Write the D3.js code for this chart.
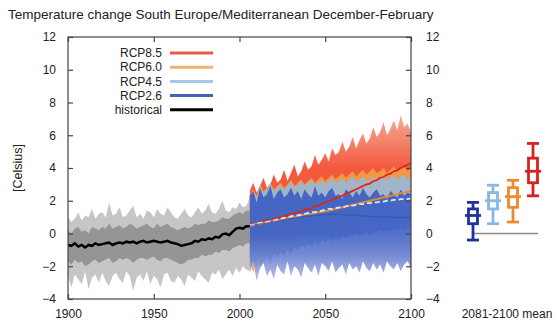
<!DOCTYPE html>
<html>
<head>
<meta charset="utf-8">
<script src="https://cdn.jsdelivr.net/npm/d3@7"></script>
<style>
  body { margin: 0; background: #fff; }
  svg { font-family: "Liberation Sans", Arial, sans-serif; }
  .tick text { font-size: 12px; fill: #222; }
  .axis path, .axis line { stroke: #444; stroke-width: 1.2; }
</style>
</head>
<body>
<div id="chart"></div>
<script>
// historical ensemble, every 2 years from 1900 to 2006
const histMean = [-0.7, -0.75, -0.6, -0.8, -0.7, -0.85, -0.7, -0.75, -0.6, -0.7, -0.65, -0.6, -0.55, -0.7, -0.6, -0.55, -0.6, -0.5, -0.55, -0.5, -0.6, -0.5, -0.45, -0.55, -0.5, -0.45, -0.5, -0.55, -0.5, -0.45, -0.55, -0.6, -0.65, -0.75, -0.7, -0.65, -0.6, -0.45, -0.5, -0.35, -0.4, -0.3, -0.35, -0.2, -0.25, -0.05, 0.0, -0.1, 0.1, 0.3, 0.35, 0.3, 0.45, 0.45];
const histHi = [1.0, 0.7, 0.9, 1.3, 0.8, 1.1, 1.0, 1.5, 0.9, 1.2, 1.3, 1.0, 1.9, 1.1, 1.2, 1.6, 1.0, 1.1, 1.4, 1.7, 1.0, 1.2, 0.9, 1.4, 1.3, 1.0, 1.5, 1.2, 1.1, 1.6, 1.3, 1.0, 0.9, 1.2, 1.5, 1.1, 1.0, 1.3, 1.6, 1.2, 1.4, 1.8, 1.3, 1.2, 1.5, 2.0, 1.4, 1.3, 1.6, 1.5, 1.9, 1.6, 1.7, 2.2];
const histLo = [-2.6, -3.3, -2.5, -2.8, -3.1, -2.3, -3.4, -2.7, -2.5, -3.0, -2.4, -2.9, -3.2, -2.6, -2.4, -2.8, -3.0, -2.3, -2.6, -3.5, -2.7, -2.5, -2.9, -2.3, -3.1, -2.6, -2.8, -3.3, -2.5, -2.4, -2.9, -3.0, -2.6, -2.8, -3.2, -2.5, -2.7, -2.9, -2.3, -2.6, -2.8, -3.0, -2.4, -2.5, -2.2, -2.8, -2.5, -2.2, -2.6, -2.1, -2.4, -2.0, -2.2, -2.3];
const histCoreHi = [0.2, 0.0, 0.3, 0.4, 0.1, 0.2, 0.0, 0.4, 0.3, 0.2, 0.4, 0.3, 0.6, 0.3, 0.4, 0.5, 0.3, 0.4, 0.6, 0.5, 0.3, 0.4, 0.5, 0.6, 0.4, 0.3, 0.6, 0.4, 0.5, 0.6, 0.4, 0.3, 0.2, 0.3, 0.4, 0.3, 0.4, 0.6, 0.5, 0.6, 0.6, 0.8, 0.7, 0.7, 0.8, 1.0, 0.9, 0.9, 1.1, 1.2, 1.3, 1.2, 1.4, 1.4];
const histCoreLo = [-1.7, -1.9, -1.6, -1.8, -1.7, -2.0, -1.9, -1.7, -1.6, -1.8, -1.7, -1.6, -1.5, -1.8, -1.7, -1.5, -1.6, -1.5, -1.6, -1.8, -1.6, -1.5, -1.5, -1.6, -1.5, -1.4, -1.6, -1.7, -1.5, -1.5, -1.6, -1.7, -1.8, -1.9, -1.8, -1.6, -1.6, -1.5, -1.5, -1.3, -1.4, -1.3, -1.3, -1.1, -1.2, -1.0, -1.0, -1.1, -0.9, -0.8, -0.7, -0.8, -0.6, -0.6];

// projections, every 2 years from 2006 to 2100
const rcp85Mean = [0.5, 0.6, 0.55, 0.7, 0.75, 0.8, 0.75, 0.9, 0.95, 1.0, 1.05, 1.1, 1.2, 1.25, 1.3, 1.35, 1.45, 1.5, 1.55, 1.65, 1.7, 1.8, 1.9, 2.0, 2.05, 2.15, 2.25, 2.3, 2.45, 2.5, 2.6, 2.7, 2.8, 2.9, 3.0, 3.05, 3.2, 3.25, 3.4, 3.45, 3.6, 3.65, 3.8, 3.85, 4.0, 4.1, 4.2, 4.3];
const rcp85Hi = [2.6, 3.1, 2.5, 2.9, 3.4, 2.8, 3.0, 3.6, 3.1, 3.3, 3.9, 3.2, 3.7, 4.2, 3.5, 3.8, 4.4, 3.9, 4.1, 4.8, 4.2, 4.5, 4.9, 4.4, 5.2, 4.8, 5.0, 5.6, 5.0, 5.3, 5.9, 5.2, 5.7, 6.1, 5.5, 5.8, 6.5, 5.9, 6.2, 6.8, 6.0, 6.4, 6.9, 6.3, 7.2, 6.5, 6.7, 6.2];
const rcp85Lo = [-1.5, -1.0, -1.8, -0.9, -1.3, -0.8, -1.1, -0.6, -0.9, -0.5, -0.7, -0.3, -0.5, -0.1, -0.3, 0.0, -0.2, 0.2, 0.0, 0.4, 0.2, 0.5, 0.4, 0.7, 0.5, 0.9, 0.7, 1.0, 0.9, 1.2, 1.0, 1.3, 1.4, 1.2, 1.6, 1.4, 1.7, 1.6, 1.9, 1.7, 2.0, 1.9, 2.2, 2.0, 2.3, 2.2, 2.5, 2.4];

const rcp60Mean = [0.5, 0.55, 0.6, 0.6, 0.65, 0.7, 0.75, 0.75, 0.8, 0.85, 0.9, 0.95, 1.0, 1.0, 1.05, 1.1, 1.15, 1.2, 1.2, 1.25, 1.3, 1.3, 1.35, 1.4, 1.45, 1.5, 1.55, 1.6, 1.65, 1.7, 1.75, 1.8, 1.85, 1.9, 1.95, 2.0, 2.05, 2.1, 2.15, 2.2, 2.25, 2.3, 2.35, 2.4, 2.45, 2.5, 2.55, 2.6];
const rcp60Hi = [2.4, 2.7, 2.3, 3.0, 2.6, 2.8, 3.1, 2.7, 2.9, 3.1, 2.8, 3.0, 3.3, 2.9, 3.1, 3.3, 3.0, 3.2, 3.4, 3.1, 3.3, 3.5, 3.2, 3.4, 3.6, 3.3, 3.5, 3.7, 3.4, 3.6, 3.8, 3.5, 3.7, 3.9, 3.6, 3.8, 4.0, 3.7, 3.8, 4.0, 3.7, 3.9, 4.1, 3.8, 4.0, 4.1, 3.8, 4.0];
const rcp60Lo = [-1.8, -2.4, -1.5, -2.1, -1.6, -1.3, -1.9, -1.2, -1.5, -1.1, -1.4, -0.9, -1.2, -0.8, -1.0, -0.7, -0.9, -0.5, -0.8, -0.4, -0.6, -0.3, -0.5, -0.2, -0.4, -0.1, -0.3, 0.0, -0.2, 0.1, 0.0, 0.2, 0.1, 0.3, 0.2, 0.4, 0.3, 0.5, 0.4, 0.6, 0.5, 0.7, 0.6, 0.8, 0.7, 0.9, 0.8, 1.0];

const rcp45Mean = [0.5, 0.5, 0.6, 0.65, 0.7, 0.7, 0.75, 0.8, 0.85, 0.9, 0.95, 1.0, 1.05, 1.1, 1.1, 1.15, 1.2, 1.25, 1.3, 1.3, 1.35, 1.4, 1.45, 1.5, 1.5, 1.55, 1.6, 1.6, 1.65, 1.7, 1.7, 1.75, 1.8, 1.8, 1.85, 1.85, 1.9, 1.9, 1.95, 1.95, 2.0, 2.0, 2.05, 2.05, 2.1, 2.1, 2.1, 2.15];
const rcp45Hi = [2.3, 2.6, 2.2, 2.9, 2.5, 2.7, 3.1, 2.6, 2.8, 3.0, 2.7, 2.9, 3.2, 2.8, 3.0, 3.2, 2.9, 3.1, 3.3, 3.0, 3.1, 3.3, 3.0, 3.2, 3.4, 3.1, 3.2, 3.4, 3.1, 3.3, 3.5, 3.2, 3.3, 3.5, 3.2, 3.3, 3.5, 3.2, 3.4, 3.6, 3.3, 3.4, 3.6, 3.3, 3.5, 3.6, 3.3, 3.5];
const rcp45Lo = [-2.0, -1.6, -2.2, -1.5, -1.8, -1.4, -1.7, -1.2, -1.5, -1.1, -1.3, -1.0, -1.2, -0.8, -1.0, -0.7, -0.9, -0.6, -0.8, -0.5, -0.7, -0.4, -0.6, -0.3, -0.5, -0.3, -0.4, -0.2, -0.3, -0.1, -0.2, 0.0, -0.1, 0.0, 0.1, -0.1, 0.1, 0.0, 0.2, 0.1, 0.2, 0.1, 0.3, 0.2, 0.3, 0.2, 0.4, 0.3];

const rcp26Mean = [0.45, 0.5, 0.55, 0.6, 0.6, 0.65, 0.7, 0.75, 0.75, 0.8, 0.85, 0.9, 0.9, 0.95, 1.0, 1.0, 1.05, 1.05, 1.1, 1.1, 1.1, 1.15, 1.15, 1.15, 1.2, 1.15, 1.2, 1.15, 1.15, 1.1, 1.15, 1.1, 1.1, 1.05, 1.1, 1.05, 1.05, 1.0, 1.05, 1.0, 1.0, 1.05, 1.0, 0.95, 1.0, 1.0, 0.95, 1.0];
const rcp26Hi = [2.3, 2.6, 1.9, 2.8, 2.2, 2.4, 2.9, 2.1, 2.5, 2.7, 2.2, 2.4, 2.8, 2.3, 2.6, 2.1, 2.7, 2.4, 2.2, 2.9, 2.3, 2.5, 2.2, 2.6, 2.8, 2.3, 2.4, 2.1, 2.7, 2.5, 2.2, 2.6, 2.3, 2.8, 2.4, 2.2, 2.5, 2.7, 2.3, 2.4, 2.1, 2.6, 2.4, 2.2, 2.7, 2.3, 2.5, 2.4];
const rcp26Lo = [-2.4, -1.7, -2.9, -2.1, -1.8, -2.6, -2.2, -2.8, -1.9, -2.3, -2.5, -1.7, -2.6, -2.0, -2.2, -2.7, -1.8, -2.1, -2.4, -1.9, -2.6, -1.8, -2.0, -2.3, -1.7, -2.4, -2.1, -1.9, -2.5, -1.8, -2.2, -2.0, -2.4, -1.7, -2.1, -2.3, -1.8, -2.2, -1.9, -2.4, -1.7, -2.0, -2.2, -1.8, -2.3, -1.9, -1.7, -2.1];

// 2081-2100 mean spread per scenario
const boxNames = ["RCP2.6", "RCP4.5", "RCP6.0", "RCP8.5"];
const boxLow = [-0.4, 0.6, 0.7, 2.3];
const boxQ1 = [0.6, 1.5, 1.6, 3.1];
const boxMed = [1.1, 2.0, 2.25, 3.8];
const boxQ3 = [1.5, 2.5, 2.8, 4.6];
const boxHigh = [1.9, 2.95, 3.25, 5.5];

const legendNames = ["RCP8.5", "RCP6.0", "RCP4.5", "RCP2.6", "historical"];
const yTicks = [-4, -2, 0, 2, 4, 6, 8, 10, 12];
const xTicks = [1900, 1950, 2000, 2050, 2100];

const width = 560, height = 327;
const mLeft = 68, mRight = 411, mTop = 37, mBottom = 299;

const histYears = d3.range(1900, 2007, 2);
const projYears = d3.range(2006, 2101, 2);

const x = d3.scaleLinear().domain([1900, 2100]).range([mLeft, mRight]);
const y = d3.scaleLinear().domain([-4, 12]).range([mBottom, mTop]);
const bx = d3.scalePoint().domain(boxNames).range([473, 533]);

const colors = {
  "RCP8.5": { band: "#f24b2c", mean: "#d82a1c", legend: "#e85a4c", box: "#d82222" },
  "RCP6.0": { band: "#f3a246", mean: "#ee8a22", legend: "#f2b274", box: "#f08a30" },
  "RCP4.5": { band: "#92b9e2", mean: "#d6e8f8", legend: "#a4c8e8", box: "#86b8e2" },
  "RCP2.6": { band: "#3558c2", mean: "#2a48b0", legend: "#4a60b0", box: "#22329c" },
  "historical": { legend: "#000" }
};

const projections = [
  { name: "RCP8.5", mean: rcp85Mean, hi: rcp85Hi, lo: rcp85Lo },
  { name: "RCP6.0", mean: rcp60Mean, hi: rcp60Hi, lo: rcp60Lo },
  { name: "RCP4.5", mean: rcp45Mean, hi: rcp45Hi, lo: rcp45Lo },
  { name: "RCP2.6", mean: rcp26Mean, hi: rcp26Hi, lo: rcp26Lo }
];

const svg = d3.select("#chart")
  .append("svg")
  .attr("width", width)
  .attr("height", height);

const defs = svg.append("defs");
defs.append("clipPath").attr("id", "plot")
  .append("rect").attr("x", mLeft).attr("y", mTop).attr("width", mRight - mLeft).attr("height", mBottom - mTop);

// lighter spikes at the bottom of RCP2.6 and at the top of RCP8.5
const gBlue = defs.append("linearGradient").attr("id", "gBlue")
  .attr("gradientUnits", "userSpaceOnUse").attr("x1", 0).attr("x2", 0)
  .attr("y1", y(-2.8)).attr("y2", y(0));
gBlue.append("stop").attr("offset", 0).attr("stop-color", "#aab3e6");
gBlue.append("stop").attr("offset", 0.55).attr("stop-color", "#5a74cc");
gBlue.append("stop").attr("offset", 1).attr("stop-color", "#3558c2");

const gRed = defs.append("linearGradient").attr("id", "gRed")
  .attr("gradientUnits", "userSpaceOnUse").attr("x1", 0).attr("x2", 0)
  .attr("y1", y(7.4)).attr("y2", y(4.0));
gRed.append("stop").attr("offset", 0).attr("stop-color", "#f6a896");
gRed.append("stop").attr("offset", 1).attr("stop-color", "#f24b2c");

const band = (years, lo, hi) => d3.area()
  .x((d, i) => x(years[i]))
  .y0((d, i) => y(lo[i]))
  .y1((d, i) => y(hi[i]))(years);

const line = (years, vals) => d3.line()
  .x((d, i) => x(years[i]))
  .y((d, i) => y(vals[i]))(years);

const plot = svg.append("g").attr("clip-path", "url(#plot)");

plot.append("path").attr("d", band(histYears, histLo, histHi)).attr("fill", "#c6c6c6");
plot.append("path").attr("d", band(histYears, histCoreLo, histCoreHi)).attr("fill", "#959595");

projections.forEach(p => {
  let fill = colors[p.name].band;
  if (p.name == "RCP8.5") fill = "url(#gRed)";
  if (p.name == "RCP2.6") fill = "url(#gBlue)";
  plot.append("path")
    .attr("d", band(projYears, p.lo, p.hi))
    .attr("fill", fill)
    .attr("fill-opacity", p.name == "RCP8.5" ? 0.92 : 0.85);
});

projections.forEach(p => {
  plot.append("path")
    .attr("d", line(projYears, p.mean))
    .attr("fill", "none")
    .attr("stroke", colors[p.name].mean)
    .attr("stroke-opacity", p.name == "RCP2.6" ? 0.5 : 1)
    .attr("stroke-width", p.name == "RCP2.6" ? 1.2 : 1.8)
    .attr("stroke-dasharray", p.name == "RCP4.5" ? "5,3" : null);
});

plot.append("path")
  .attr("d", line(histYears, histMean))
  .attr("fill", "none")
  .attr("stroke", "#000")
  .attr("stroke-width", 2.5);

// frame and axes
svg.append("rect")
  .attr("x", mLeft).attr("y", mTop)
  .attr("width", mRight - mLeft).attr("height", mBottom - mTop)
  .attr("fill", "none").attr("stroke", "#444").attr("stroke-width", 1.2);

svg.append("g").attr("class", "axis")
  .attr("transform", "translate(" + mLeft + ",0)")
  .call(d3.axisLeft(y).tickValues(yTicks).tickSize(-5).tickPadding(12));
svg.append("g").attr("class", "axis")
  .attr("transform", "translate(" + mRight + ",0)")
  .call(d3.axisRight(y).tickValues(yTicks).tickSize(-5).tickPadding(15));
svg.append("g").attr("class", "axis")
  .attr("transform", "translate(0," + mBottom + ")")
  .call(d3.axisBottom(x).tickValues(xTicks).tickSize(-5).tickPadding(10).tickFormat(d3.format("d")));
svg.append("g").attr("class", "axis")
  .attr("transform", "translate(0," + mTop + ")")
  .call(d3.axisTop(x).tickValues(xTicks).tickSize(-5).tickFormat(""));
svg.selectAll(".axis .domain").remove();

// box plots
svg.append("line")
  .attr("x1", 473).attr("x2", 538)
  .attr("y1", y(0)).attr("y2", y(0))
  .attr("stroke", "#8a8a8a").attr("stroke-width", 1.5);

const boxes = svg.append("g").selectAll("g")
  .data(boxNames)
  .enter()
  .append("g")
  .attr("stroke", d => colors[d].box)
  .attr("stroke-width", 2.8)
  .attr("fill", "#fff");

boxes.append("line")
  .attr("x1", d => bx(d)).attr("x2", d => bx(d))
  .attr("y1", (d, i) => y(boxLow[i])).attr("y2", (d, i) => y(boxHigh[i]));
boxes.append("line")
  .attr("x1", d => bx(d) - 6).attr("x2", d => bx(d) + 6)
  .attr("y1", (d, i) => y(boxLow[i])).attr("y2", (d, i) => y(boxLow[i]));
boxes.append("line")
  .attr("x1", d => bx(d) - 6).attr("x2", d => bx(d) + 6)
  .attr("y1", (d, i) => y(boxHigh[i])).attr("y2", (d, i) => y(boxHigh[i]));
boxes.append("rect")
  .attr("x", d => bx(d) - 4.5).attr("width", 9)
  .attr("y", (d, i) => y(boxQ3[i]))
  .attr("height", (d, i) => y(boxQ1[i]) - y(boxQ3[i]));
boxes.append("line")
  .attr("x1", d => bx(d) - 8).attr("x2", d => bx(d) + 8)
  .attr("y1", (d, i) => y(boxMed[i])).attr("y2", (d, i) => y(boxMed[i]));

// legend
const legend = svg.append("g").selectAll("g")
  .data(legendNames)
  .enter()
  .append("g")
  .attr("transform", (d, i) => "translate(0," + (53 + i * 14.2) + ")");
legend.append("text")
  .attr("x", 162).attr("dy", "0.35em")
  .attr("text-anchor", "end")
  .attr("font-size", 12).attr("fill", "#222")
  .text(d => d);
legend.append("line")
  .attr("x1", 170).attr("x2", 213)
  .attr("stroke", d => colors[d].legend)
  .attr("stroke-width", 3);

// texts
svg.append("text")
  .attr("x", 8).attr("y", 19)
  .attr("font-size", 13.5).attr("fill", "#222")
  .text("Temperature change South Europe/Mediterranean December-February");

svg.append("text")
  .attr("transform", "translate(22,168) rotate(-90)")
  .attr("text-anchor", "middle")
  .attr("font-size", 12.5).attr("fill", "#222")
  .text("[Celsius]");

svg.append("text")
  .attr("x", 507).attr("y", 318)
  .attr("text-anchor", "middle")
  .attr("font-size", 12).attr("fill", "#222")
  .text("2081-2100 mean");
</script>
</body>
</html>
